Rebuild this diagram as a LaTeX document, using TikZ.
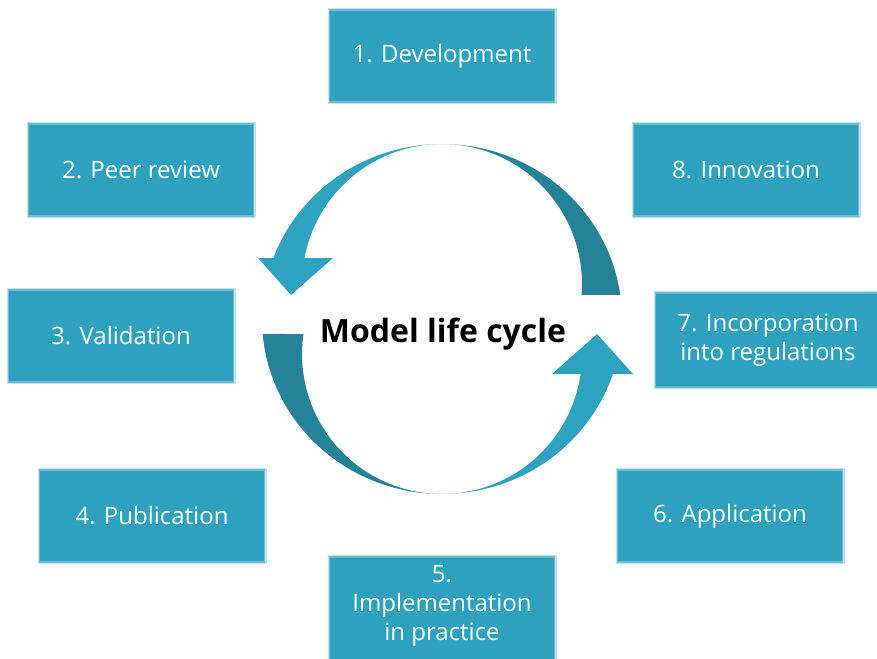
\documentclass[tikz,border=0pt]{standalone}
\usepackage{fontspec}
\setmainfont{Open Sans}
\definecolor{boxc}{RGB}{46,161,190}
\definecolor{lightc}{RGB}{46,163,192}
\definecolor{darkc}{RGB}{37,130,153}
\tikzset{
  box/.style={fill=boxc, draw=boxc!70!white, line width=1.5pt,
    preaction={draw=boxc!30!white, line width=4pt},
    minimum width=225pt, minimum height=92pt, inner sep=0pt,
    text=white, align=center, font=\fontsize{24}{29}\selectfont},
  lbl/.style={text=white, align=center, font=\fontsize{24}{29}\selectfont, inner sep=0pt},
  title/.style={font=\fontsize{32}{36}\selectfont\bfseries, text=black, inner sep=0pt}
}
\begin{document}
\begin{tikzpicture}[x=1pt,y=-1pt]
\useasboundingbox (0,0) rectangle (877,658);
\fill[white] (0,0) rectangle (877,658);
% cycle arrows
\fill[darkc] plot[domain=270:352.1, samples=60] ({442+180*cos(\x)},{319+175*sin(\x)})
  -- plot[domain=364.5:270, samples=60] ({442+140*cos(\x)},{284+140*sin(\x)}) -- cycle;
\fill[lightc] plot[domain=270:200.4, samples=60] ({442+180*cos(\x)},{319+175*sin(\x)})
  -- (258,258) -- (291,295) -- (333,258)
  -- plot[domain=190.7:270, samples=60] ({442+140*cos(\x)},{284+140*sin(\x)}) -- cycle;
\fill[darkc] plot[domain=90:175.1, samples=60] ({442+180*cos(\x)},{319+175*sin(\x)})
  -- plot[domain=188.2:90, samples=60] ({442+140*cos(\x)},{354+140*sin(\x)}) -- cycle;
\fill[lightc] plot[domain=90:18.3, samples=60] ({442+180*cos(\x)},{319+175*sin(\x)})
  -- (633,374) -- (597,334) -- (552,374)
  -- plot[domain=8.2:90, samples=60] ({442+140*cos(\x)},{354+140*sin(\x)}) -- cycle;
\node[title, anchor=base] (title) at (443,342) {Model life cycle};
% boxes
\node[box] (b1) at (442,56) {1. Development};
\node[box] (b2) at (141,170) {2. Peer review};
\node[box] (b3) at (121,336) {3. Validation};
\node[box] (b4) at (152,516) {4. Publication};
\node[box, minimum height=112pt] (b5) at (442,613) {};
\node[lbl] (t5) at (442,606) {5.\\Implementation\\in practice};
\node[box] (b6) at (730,516) {6. Application};
\node[box, minimum height=94pt] (b7) at (768,340) {7. Incorporation\\into regulations};
\node[box] (b8) at (746,170) {8. Innovation};
\end{tikzpicture}
\end{document}
